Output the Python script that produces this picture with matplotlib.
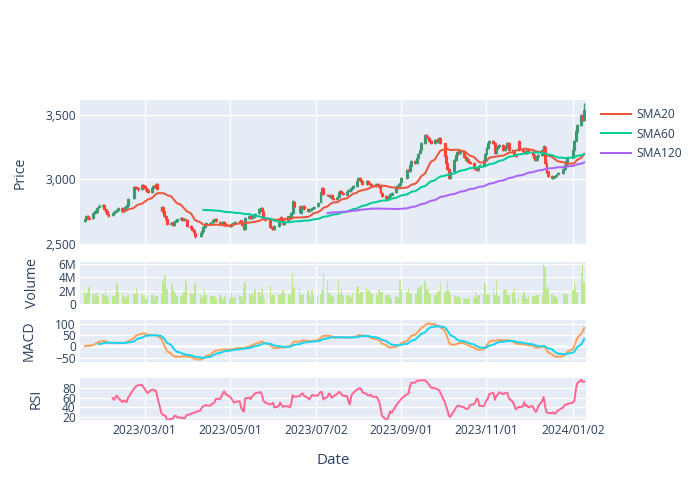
import numpy as np
import pandas as pd
import matplotlib
matplotlib.use("Agg")
import matplotlib.pyplot as plt
import matplotlib.dates as mdates
from matplotlib.ticker import FuncFormatter, FixedLocator
from matplotlib.lines import Line2D

plt.rcParams["font.family"] = ["Open Sans", "DejaVu Sans"]

# trading days (exchange holidays left out)
holidays = ["2023-02-20", "2023-04-07", "2023-05-29", "2023-06-19", "2023-07-04",
            "2023-09-04", "2023-11-23", "2023-12-25", "2024-01-01"]
dates = pd.bdate_range("2023-01-17", "2024-01-10", freq="C", holidays=holidays)

opens = [
    2680, 2693, 2718, 2702, 2698, 2738, 2757, 2748, 2783, 2792, 2803,
    2768, 2752, 2733, 2722, 2741, 2746, 2757, 2763, 2782, 2758, 2772, 2788, 2803, 2858, 2942, 2943, 2932, 2928, 2957,
    2948, 2932, 2917, 2903, 2937, 2952, 2943, 2962, 2765, 2788, 2752, 2718, 2692, 2653, 2667, 2648, 2672, 2678, 2692, 2702, 2683, 2697, 2688,
    2642, 2623, 2612, 2588, 2562, 2583, 2602, 2628, 2652, 2658, 2667, 2670, 2683, 2694, 2673, 2662, 2663, 2670, 2652,
    2647, 2638, 2657, 2664, 2662, 2666, 2682, 2662, 2643, 2617, 2698, 2717, 2703, 2712, 2718, 2737, 2768, 2782, 2754, 2702, 2683, 2632,
    2622, 2613, 2642, 2668, 2707, 2682, 2653, 2678, 2715, 2703, 2742, 2828, 2792, 2743, 2772, 2797, 2773, 2758, 2760, 2772, 2780,
    2792, 2822, 2898, 2937, 2883, 2880, 2868, 2877, 2853, 2846, 2862, 2903, 2912, 2893, 2883, 2907, 2913, 2922, 2933, 2952,
    2992, 3012, 2993, 2987, 2963, 2987, 2973, 2964, 2956, 2952, 2967, 2953, 2946, 2898, 2874, 2858, 2846, 2872, 2883, 2899, 2938, 2952, 2960,
    2977, 3008, 3072, 3062, 3108, 3142, 3128, 3165, 3202, 3228, 3284, 3348, 3328, 3322, 3298, 3280, 3307, 3293, 3308, 3323,
    3280, 3182, 3128, 3082, 3008, 3062, 3148, 3192, 3217, 3203, 3222, 3173, 3148, 3162, 3133, 3127, 3098, 3087, 3075, 3102, 3108, 3152,
    3198, 3242, 3280, 3297, 3284, 3203, 3246, 3258, 3271, 3229, 3242, 3258, 3284, 3228, 3212, 3190, 3300, 3228, 3220, 3208, 3203,
    3233, 3213, 3190, 3167, 3152, 3182, 3190, 3233, 3250, 3125, 3062, 3028, 3011, 3022, 3028, 3040, 3053, 3078, 3112, 3138,
    3170, 3228, 3302, 3370, 3422, 3502, 3460,
]
highs = [
    2698, 2728, 2724, 2710, 2746, 2765, 2763, 2786, 2806, 2811, 2808,
    2774, 2758, 2740, 2747, 2756, 2762, 2773, 2788, 2789, 2778, 2797, 2810, 2858, 2953, 2952, 2951, 2940, 2968, 2966,
    2955, 2939, 2923, 2942, 2958, 2961, 2972, 2970, 2798, 2795, 2758, 2725, 2698, 2673, 2674, 2678, 2688, 2697, 2708, 2709, 2702, 2704, 2694,
    2649, 2631, 2618, 2594, 2592, 2608, 2637, 2658, 2668, 2673, 2680, 2693, 2701, 2700, 2679, 2672, 2676, 2677, 2659,
    2654, 2662, 2670, 2671, 2676, 2688, 2689, 2668, 2649, 2708, 2722, 2724, 2718, 2728, 2742, 2778, 2790, 2789, 2760, 2708, 2689, 2638,
    2629, 2647, 2677, 2712, 2713, 2688, 2688, 2720, 2723, 2748, 2840, 2836, 2798, 2777, 2803, 2804, 2780, 2770, 2778, 2790, 2798,
    2828, 2908, 2945, 2943, 2891, 2887, 2883, 2884, 2860, 2868, 2912, 2918, 2919, 2900, 2912, 2923, 2928, 2943, 2958, 2998,
    3018, 3019, 3000, 2993, 2992, 2994, 2980, 2971, 2963, 2972, 2974, 2960, 2952, 2904, 2880, 2865, 2877, 2893, 2905, 2948, 2958, 2970, 2983,
    3018, 3078, 3080, 3118, 3148, 3149, 3175, 3208, 3238, 3290, 3355, 3356, 3336, 3328, 3305, 3313, 3314, 3318, 3329, 3330,
    3286, 3188, 3134, 3088, 3068, 3158, 3198, 3223, 3224, 3228, 3229, 3180, 3168, 3169, 3140, 3133, 3105, 3094, 3108, 3118, 3158, 3208,
    3248, 3290, 3303, 3304, 3290, 3252, 3268, 3277, 3278, 3248, 3268, 3290, 3290, 3235, 3219, 3197, 3308, 3235, 3227, 3215, 3239,
    3240, 3220, 3197, 3174, 3188, 3200, 3239, 3264, 3257, 3131, 3068, 3035, 3028, 3038, 3046, 3059, 3088, 3118, 3148, 3175,
    3238, 3308, 3380, 3428, 3510, 3508, 3590,
]
lows = [
    2672, 2686, 2692, 2685, 2692, 2731, 2742, 2741, 2776, 2785, 2763,
    2742, 2728, 2711, 2715, 2733, 2739, 2750, 2756, 2752, 2751, 2765, 2781, 2796, 2850, 2930, 2926, 2914, 2920, 2937,
    2927, 2906, 2896, 2897, 2929, 2937, 2936, 2917, 2756, 2742, 2712, 2681, 2646, 2645, 2641, 2641, 2664, 2671, 2685, 2677, 2676, 2682, 2631,
    2616, 2602, 2581, 2549, 2554, 2576, 2595, 2621, 2644, 2650, 2659, 2662, 2676, 2667, 2652, 2654, 2656, 2642, 2637,
    2632, 2631, 2649, 2652, 2655, 2659, 2652, 2637, 2606, 2610, 2690, 2697, 2695, 2704, 2711, 2730, 2761, 2748, 2692, 2676, 2622, 2611,
    2606, 2606, 2635, 2661, 2672, 2647, 2646, 2671, 2697, 2696, 2735, 2782, 2737, 2736, 2765, 2767, 2748, 2750, 2752, 2765, 2772,
    2785, 2815, 2891, 2877, 2870, 2862, 2860, 2847, 2840, 2839, 2855, 2896, 2887, 2877, 2876, 2899, 2905, 2915, 2926, 2945,
    2985, 2987, 2977, 2957, 2956, 2967, 2954, 2950, 2946, 2945, 2947, 2936, 2892, 2864, 2852, 2839, 2839, 2865, 2876, 2892, 2930, 2944, 2953,
    2970, 3001, 3056, 3055, 3101, 3122, 3121, 3158, 3195, 3221, 3277, 3322, 3312, 3292, 3274, 3273, 3287, 3286, 3301, 3274,
    3172, 3122, 3072, 3001, 3001, 3055, 3141, 3185, 3197, 3196, 3167, 3142, 3141, 3127, 3117, 3092, 3077, 3068, 3068, 3095, 3101, 3145,
    3191, 3235, 3273, 3274, 3197, 3196, 3239, 3251, 3223, 3222, 3235, 3251, 3222, 3202, 3184, 3177, 3217, 3210, 3202, 3197, 3196,
    3207, 3184, 3157, 3146, 3145, 3175, 3183, 3226, 3120, 3052, 3017, 3004, 3003, 3014, 3020, 3032, 3046, 3071, 3105, 3131,
    3163, 3221, 3295, 3363, 3415, 3454, 3453,
]
closes = [
    2690, 2720, 2700, 2695, 2740, 2755, 2750, 2780, 2795, 2800, 2770,
    2750, 2735, 2720, 2740, 2748, 2755, 2765, 2780, 2760, 2770, 2790, 2800, 2850, 2945, 2940, 2935, 2925, 2960, 2945,
    2935, 2915, 2905, 2935, 2950, 2945, 2960, 2925, 2790, 2750, 2720, 2690, 2655, 2665, 2650, 2670, 2680, 2690, 2700, 2685, 2695, 2690, 2640,
    2625, 2610, 2590, 2560, 2585, 2600, 2630, 2650, 2660, 2665, 2672, 2685, 2692, 2675, 2660, 2665, 2668, 2650, 2645,
    2640, 2655, 2662, 2660, 2668, 2680, 2660, 2645, 2615, 2700, 2715, 2705, 2710, 2720, 2735, 2770, 2780, 2756, 2700, 2685, 2630, 2620,
    2615, 2640, 2670, 2705, 2680, 2655, 2680, 2713, 2705, 2740, 2830, 2790, 2745, 2770, 2795, 2775, 2756, 2762, 2770, 2782, 2790,
    2820, 2900, 2935, 2885, 2878, 2870, 2875, 2855, 2848, 2860, 2905, 2910, 2895, 2885, 2905, 2915, 2920, 2935, 2950, 2990,
    3010, 2995, 2985, 2965, 2985, 2975, 2962, 2958, 2954, 2965, 2955, 2944, 2900, 2872, 2860, 2848, 2870, 2885, 2897, 2940, 2950, 2962, 2975,
    3010, 3070, 3064, 3110, 3140, 3130, 3167, 3200, 3230, 3282, 3346, 3330, 3320, 3300, 3282, 3305, 3295, 3310, 3321, 3282,
    3180, 3130, 3080, 3010, 3060, 3150, 3190, 3215, 3205, 3220, 3175, 3150, 3160, 3135, 3125, 3100, 3085, 3077, 3100, 3110, 3150, 3200,
    3240, 3282, 3295, 3282, 3205, 3244, 3260, 3269, 3231, 3240, 3260, 3282, 3230, 3210, 3192, 3185, 3225, 3218, 3210, 3205, 3231,
    3215, 3192, 3165, 3154, 3180, 3192, 3231, 3256, 3128, 3060, 3026, 3013, 3020, 3030, 3038, 3051, 3080, 3110, 3140, 3167,
    3230, 3300, 3372, 3420, 3500, 3462, 3540,
]
# volume in millions
volume_m = [
    1.95, 1.53, 1.84, 2.58, 1.53, 0.89, 1.68, 1.16, 1.16, 1.53,
    1.32, 2.05, 1.16, 0.79, 1.21, 1.16, 1.42, 3.11, 1.84, 1.84,
    1.16, 0.79, 1.0, 1.32, 1.53, 1.53, 2.58, 1.53, 1.53,
    1.0, 1.42, 0.79, 1.16, 1.42, 1.32, 0.79, 1.16, 1.16, 1.53,
    3.53, 4.26, 4.26, 2.21, 3.11, 2.74, 1.95, 1.53, 1.16, 1.16,
    1.53, 1.84, 3.79, 3.11, 1.68, 1.53, 1.53, 3.16, 1.32,
    0.89, 1.32, 2.05, 1.32, 1.16, 1.16, 1.16, 1.16, 0.79, 1.32,
    1.0, 0.79, 1.0, 1.16, 0.89, 1.68, 1.0, 0.89, 1.32, 1.32,
    1.16, 0.79, 2.58, 3.26, 1.53, 1.16, 1.68, 1.16, 2.21,
    1.84, 1.16, 2.21, 1.32, 0.79, 2.89, 1.32, 1.32, 1.42, 1.53,
    1.32, 1.68, 2.11, 1.53, 1.53, 1.32, 2.05, 4.58, 2.63, 2.37,
    1.32, 1.32, 1.53, 2.05, 1.42, 0.89, 2.05, 1.42, 1.16,
    1.32, 2.05, 4.58, 3.53, 1.68, 1.42, 1.0, 1.16,
    1.32, 3.53, 1.53, 2.21, 1.42, 1.32, 1.16, 1.42, 1.0,
    1.68, 2.05, 2.74, 1.42, 1.84, 1.84, 2.47, 1.95, 2.05, 1.84,
    1.53, 1.68, 1.16, 2.05, 1.84, 1.84, 1.42, 1.32, 1.32, 0.89,
    0.89, 1.16, 1.0, 0.89, 3.42, 2.05, 1.84, 2.37, 1.68,
    1.53, 1.53, 1.68, 2.37, 2.58, 2.74, 3.53, 2.05, 2.21, 1.53,
    1.53, 1.32, 1.68, 1.84, 1.95, 3.16, 1.84, 1.95, 3.53, 1.95,
    1.42, 1.42, 1.16, 1.0, 1.16, 0.89, 0.89, 0.89, 0.79, 0.89,
    0.89, 0.89, 1.84, 1.0, 1.32, 1.42, 1.53, 3.11, 1.32,
    1.53, 1.32, 2.21, 1.42, 3.42, 1.42, 1.16, 2.05, 2.21, 2.05,
    1.42, 1.32, 1.84, 2.37, 0.89, 0.89, 1.42, 1.84, 1.16, 0.79,
    1.16, 1.16, 1.16, 1.32, 1.42, 1.32, 1.42, 6.0, 5.63, 2.21,
    2.58, 1.53, 1.42, 1.16, 1.0, 0.79, 1.53, 1.53, 1.53, 1.42,
    2.05, 3.26, 2.63, 1.84, 4.74, 6.05, 3.16,
]
tick_dates = ["2023-03-01", "2023-05-01", "2023-07-02", "2023-09-01", "2023-11-01", "2024-01-02"]

df = pd.DataFrame({"open": opens, "high": highs, "low": lows, "close": closes,
                   "volume": np.array(volume_m) * 1e6}, index=dates)

# indicators derived from the closes
close = df["close"]
sma20 = close.rolling(20).mean()
sma60 = close.rolling(60).mean()
sma120 = close.rolling(120).mean()
ema12 = close.ewm(span=12, adjust=False).mean()
ema26 = close.ewm(span=26, adjust=False).mean()
macd = ema12 - ema26
signal = macd.ewm(span=9, adjust=False, min_periods=9).mean()
delta = close.diff()
gain = delta.clip(lower=0).rolling(14).mean()
loss = (-delta.clip(upper=0)).rolling(14).mean()
rsi = 100 - 100 / (1 + gain / loss)

W, H = 700, 500
BG = "#E5ECF6"
FG = "#2a3f5f"
TICK = 8.64
TITLE = 10.08

fig = plt.figure(figsize=(W / 100, H / 100), dpi=100)


def panel(top, bottom):
    return fig.add_axes([80 / W, 1 - bottom / H, 506 / W, (bottom - top) / H])


ax_p = panel(100, 245)
ax_v = panel(262, 304)
ax_m = panel(320, 362)
ax_r = panel(378, 420)
axes = [ax_p, ax_v, ax_m, ax_r]

x0 = mdates.date2num(pd.Timestamp("2023-01-13 14:00"))
x1 = mdates.date2num(pd.Timestamp("2024-01-11 08:00"))
for ax in axes:
    ax.set_facecolor(BG)
    for s in ax.spines.values():
        s.set_visible(False)
    ax.grid(True, color="white", linewidth=1)
    ax.set_axisbelow(True)
    ax.tick_params(length=0, labelsize=TICK, labelcolor=FG, pad=3)
    ax.set_xlim(x0, x1)
    ax.xaxis.set_major_locator(FixedLocator(mdates.date2num(pd.to_datetime(tick_dates))))
    ax.xaxis.set_major_formatter(mdates.DateFormatter("%Y/%m/%d"))
    if ax is not ax_r:
        ax.tick_params(labelbottom=False)

# candlesticks
up = df["close"] >= df["open"]
ccol = np.where(up, "#3D9970", "#FF4136")
ax_p.vlines(df.index, df["low"], df["high"], colors=ccol, linewidth=1, zorder=2)
ax_p.bar(df.index, (df["close"] - df["open"]).abs().clip(lower=2),
         bottom=df[["open", "close"]].min(axis=1), width=1.4,
         color=ccol, edgecolor=ccol, linewidth=0.8, zorder=2)
ax_p.plot(df.index, sma20, color="#EF553B", linewidth=1.44, zorder=3)
ax_p.plot(df.index, sma60, color="#00CC96", linewidth=1.44, zorder=3)
ax_p.plot(df.index, sma120, color="#AB63FA", linewidth=1.44, zorder=3)
ax_p.set_ylim(2492, 3616)
ax_p.yaxis.set_major_locator(FixedLocator([2500, 3000, 3500]))
ax_p.yaxis.set_major_formatter(FuncFormatter(lambda v, p: f"{v:,.0f}"))

# volume
ax_v.bar(df.index, df["volume"], width=1.0, color="#B6E880", alpha=0.85, linewidth=0)
ax_v.set_ylim(0, 6.32e6)
ax_v.yaxis.set_major_locator(FixedLocator([0, 2e6, 4e6, 6e6]))
ax_v.yaxis.set_major_formatter(FuncFormatter(lambda v, p: "0" if v == 0 else f"{v / 1e6:.0f}M"))

# MACD
ax_m.axhline(0, color="white", linewidth=2, zorder=1)
ax_m.plot(df.index, macd, color="#FFA15A", linewidth=1.44)
ax_m.plot(df.index, signal, color="#19D3F3", linewidth=1.44)
ax_m.set_ylim(-70, 118)
ax_m.yaxis.set_major_locator(FixedLocator([-50, 0, 50, 100]))
ax_m.yaxis.set_major_formatter(FuncFormatter(lambda v, p: f"{v:.0f}".replace("-", "\u2212")))

# RSI
ax_r.plot(df.index, rsi, color="#FF6692", linewidth=1.44)
ax_r.set_ylim(14, 101)
ax_r.yaxis.set_major_locator(FixedLocator([20, 40, 60, 80]))

# axis titles
fig.text(20 / W, 1 - 172.5 / H, "Price", rotation=90, ha="center", va="center", fontsize=TITLE, color=FG)
fig.text(33 / W, 1 - 283 / H, "Volume", rotation=90, ha="center", va="center", fontsize=TITLE, color=FG)
fig.text(29 / W, 1 - 341 / H, "MACD", rotation=90, ha="center", va="center", fontsize=TITLE, color=FG)
fig.text(36 / W, 1 - 399 / H, "RSI", rotation=90, ha="center", va="center", fontsize=TITLE, color=FG)
fig.text(333 / W, 1 - 460 / H, "Date", ha="center", va="center", fontsize=TITLE * 1.08, color=FG)

handles = [Line2D([], [], color=c, linewidth=1.44) for c in ["#EF553B", "#00CC96", "#AB63FA"]]
leg = fig.legend(handles, ["SMA20", "SMA60", "SMA120"], loc="upper left",
                 bbox_to_anchor=(601 / W, 1 - 108 / H), frameon=False, fontsize=TICK,
                 handlelength=2.5, handletextpad=0.45, labelspacing=0.55,
                 borderpad=0, borderaxespad=0)
for t in leg.get_texts():
    t.set_color(FG)

fig.savefig("out.png", dpi=100)
